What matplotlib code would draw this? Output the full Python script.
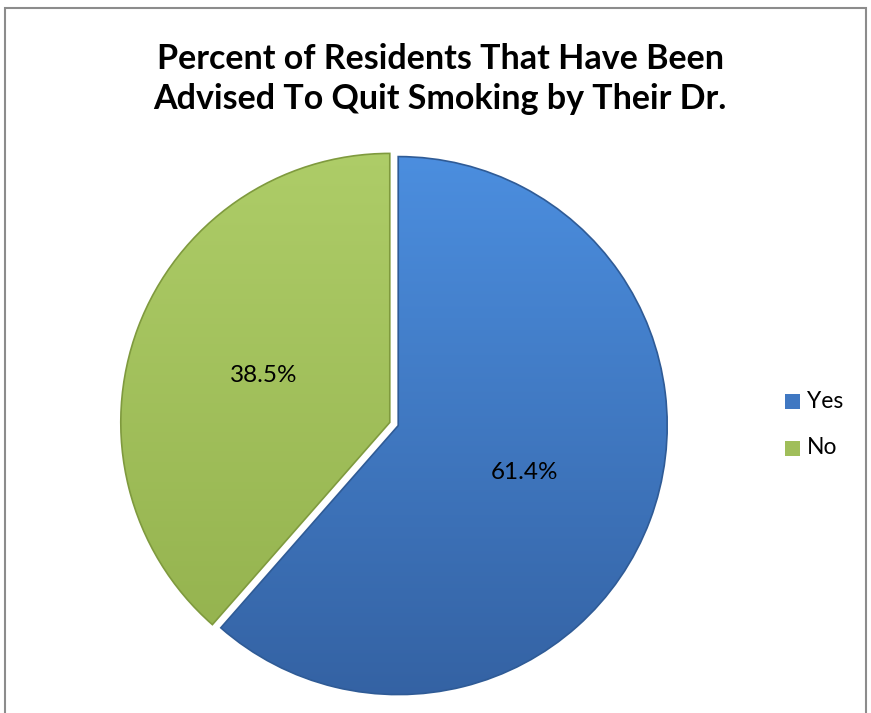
import matplotlib.pyplot as plt
import matplotlib.colors as colors
from matplotlib.patches import Rectangle
import numpy as np

labels = ["Yes", "No"]
values = [61.4, 38.5]
title = "Percent of Residents That Have Been\nAdvised To Quit Smoking by Their Dr."

FONT = ["Lato", "DejaVu Sans"]
W, H = 871, 713
fig = plt.figure(figsize=(W / 100, H / 100), dpi=100)
ax = fig.add_axes([0, 0, 1, 1])

# frame of the chart area (bottom runs off the picture)
ax.add_patch(Rectangle((5, -20), 861, H - 8 + 20, fill=False, edgecolor="#8c8c8c", lw=1.5))

grads = [("#4c8fe0", "#3462a3"), ("#aecd68", "#92b04c")]
edges = ["#2f5b96", "#7f9a3e"]

wedges, texts = ax.pie(
    values,
    labels=[f"{v}%" for v in values],
    labeldistance=0.5,
    startangle=90,
    counterclock=False,
    explode=[4.5, 4.5],
    center=(394, H - 424),
    radius=269,
    frame=True,
    textprops=dict(fontsize=17.5, family=FONT, color="black"),
)
ax.set_xlim(0, W)
ax.set_ylim(0, H)
ax.axis("off")

# vertical gradient fill inside each wedge
for w, (top, bot), ec in zip(wedges, grads, edges):
    cmap = colors.LinearSegmentedColormap.from_list("g", [bot, top])
    g = np.linspace(0, 1, 256).reshape(-1, 1)
    im = ax.imshow(g, cmap=cmap, origin="lower", extent=[100, 700, H - 700, H - 145],
                   aspect="auto", zorder=1)
    im.set_clip_path(w)
    w.set_facecolor("none")
    w.set_edgecolor(ec)
    w.set_linewidth(1.2)
    w.set_zorder(2)
for t in texts:
    t.set_ha("center")
    t.set_va("center")
    t.set_zorder(3)

ax.text(440, H - 79, title, ha="center", va="center", fontsize=24.5, fontweight="bold",
        family=FONT, linespacing=1.33)

# legend
for lab, (top, bot), yy in zip(labels, grads, [401, 448]):
    ax.add_patch(Rectangle((785, H - yy - 8), 15, 15, facecolor=colors.to_hex(
        np.mean([colors.to_rgb(top), colors.to_rgb(bot)], axis=0)), edgecolor="none"))
    ax.text(807, H - yy, lab, ha="left", va="center", fontsize=16.5, family=FONT)

fig.savefig("out.png", dpi=100)
